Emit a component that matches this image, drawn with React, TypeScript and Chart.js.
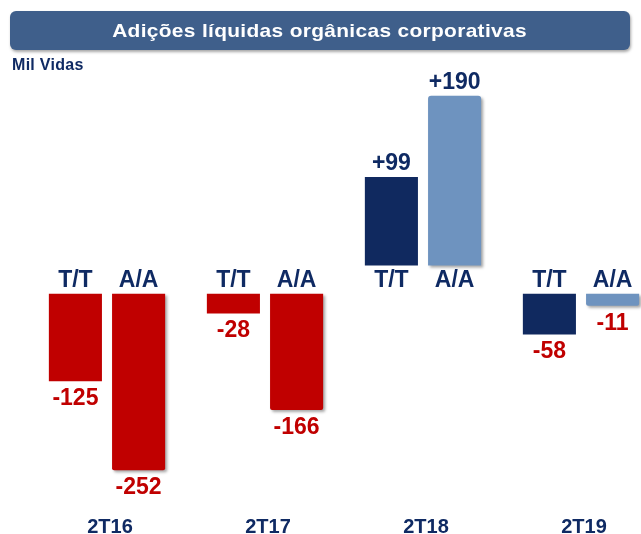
import React, { useEffect, useRef } from 'react';
import { Chart, registerables } from 'chart.js';

Chart.register(...registerables);

// ---- data ----
const categories = ['2T16', '2T17', '2T18', '2T19'];
const seriesNames = ['T/T', 'A/A'];
const ttValues = [-125, -28, 99, -58];
const aaValues = [-252, -166, 190, -11];
const titleText = 'Adições líquidas orgânicas corporativas';
const unitText = 'Mil Vidas';

// ---- styles ----
const RED = '#C00000';
const NAVY = '#10295F';
const LIGHT = '#6E93BF';
const TEXT_NAVY = '#0F2A63';
const ttColors = [RED, RED, NAVY, NAVY];
const aaColors = [RED, RED, LIGHT, LIGHT];
const FONT = '"Liberation Sans", Arial, sans-serif';

const negOnly = (arr: number[]) => arr.map((v) => (v < 0 ? v : null));
const posOnly = (arr: number[]) => arr.map((v) => (v >= 0 ? v : null));

const barLabelsPlugin = {
  id: 'barLabels',
  beforeDatasetDraw(chart: any, args: any) {
    const ds = chart.data.datasets[args.index];
    if (ds.shadow) {
      const ctx = chart.ctx;
      ctx.save();
      ctx.shadowColor = 'rgba(0,0,0,0.35)';
      ctx.shadowBlur = 3;
      ctx.shadowOffsetX = 2;
      ctx.shadowOffsetY = 2;
    }
  },
  afterDatasetDraw(chart: any, args: any) {
    const ds = chart.data.datasets[args.index];
    if (ds.shadow) chart.ctx.restore();
  },
  afterDatasetsDraw(chart: any) {
    const ctx = chart.ctx;
    const zeroNeg = chart.scales.yNeg.getPixelForValue(0);
    ctx.save();
    ctx.textAlign = 'center';
    ctx.textBaseline = 'alphabetic';
    chart.data.datasets.forEach((ds: any, di: number) => {
      const meta = chart.getDatasetMeta(di);
      meta.data.forEach((bar: any, i: number) => {
        const v = ds.data[i];
        if (v === null || v === undefined) return;
        const { x, y, base } = bar.getProps(['x', 'y', 'base'], true);
        ctx.font = `bold 23px ${FONT}`;
        ctx.fillStyle = TEXT_NAVY;
        ctx.fillText(ds.seriesName, x, zeroNeg - 7);
        const txt = v > 0 ? '+' + v : String(v);
        if (v < 0) {
          ctx.fillStyle = RED;
          ctx.fillText(txt, x, Math.max(y, base) + 24);
        } else {
          ctx.fillStyle = TEXT_NAVY;
          ctx.fillText(txt, x, Math.min(y, base) - 7);
        }
      });
    });
    ctx.restore();
  },
};

export default function App() {
  const canvasRef = useRef<HTMLCanvasElement | null>(null);

  useEffect(() => {
    if (!canvasRef.current) return;
    const common = {
      categoryPercentage: 0.8,
      barPercentage: 0.84,
      borderWidth: 0,
    };
    const chart = new Chart(canvasRef.current, {
      type: 'bar',
      data: {
        labels: categories,
        datasets: [
          { ...common, seriesName: seriesNames[0], data: negOnly(ttValues), backgroundColor: ttColors, yAxisID: 'yNeg', stack: 'tt', minBarLength: 12 } as any,
          { ...common, seriesName: seriesNames[1], data: negOnly(aaValues), backgroundColor: aaColors, yAxisID: 'yNeg', stack: 'aa', minBarLength: 12, shadow: true, borderRadius: 2 } as any,
          { ...common, seriesName: seriesNames[0], data: posOnly(ttValues), backgroundColor: ttColors, yAxisID: 'yPos', stack: 'tt' } as any,
          { ...common, seriesName: seriesNames[1], data: posOnly(aaValues), backgroundColor: aaColors, yAxisID: 'yPos', stack: 'aa', shadow: true, borderRadius: 3 } as any,
        ],
      },
      options: {
        responsive: false,
        animation: false,
        events: [],
        layout: { padding: { top: 60, left: 28, right: 40, bottom: 0 } },
        plugins: { legend: { display: false }, tooltip: { enabled: false }, title: { display: false } },
        scales: {
          x: {
            offset: true,
            grid: { display: false, drawTicks: false },
            border: { display: false },
            ticks: {
              color: TEXT_NAVY,
              font: { family: FONT, size: 20, weight: 'bold' },
              padding: 21,
              labelOffset: 3,
            },
            afterFit(scale: any) {
              scale.height = 40;
            },
          },
          yNeg: {
            type: 'linear',
            display: false,
            stacked: false,
            min: -286,
            max: 334,
          },
          yPos: {
            type: 'linear',
            display: false,
            stacked: false,
            min: -256,
            max: 230,
          },
        },
      } as any,
      plugins: [barLabelsPlugin],
    });
    return () => chart.destroy();
  }, []);

  return (
    <div style={{ position: 'fixed', left: 0, top: 0, width: 641, height: 534, overflow: 'hidden', background: '#fff' }}>
      <canvas ref={canvasRef} width={700} height={534} style={{ position: 'absolute', left: 0, top: 0 }} />
      <div
        style={{
          position: 'absolute',
          left: 10,
          top: 11,
          width: 620,
          height: 39,
          borderRadius: 6,
          background: '#3F5F8B',
          boxShadow: '1px 2px 3px rgba(0,0,0,0.35)',
          color: '#fff',
          fontFamily: FONT,
          fontWeight: 'bold',
          fontSize: 19,
          display: 'flex',
          alignItems: 'center',
          justifyContent: 'center',
        }}
      >
        <span style={{ display: 'inline-block', transform: 'scaleX(1.1)', letterSpacing: 0.3 }}>{titleText}</span>
      </div>
      <div
        style={{
          position: 'absolute',
          left: 12,
          top: 56,
          color: TEXT_NAVY,
          fontFamily: FONT,
          fontWeight: 'bold',
          fontSize: 16,
          letterSpacing: 0.3,
        }}
      >
        {unitText}
      </div>
    </div>
  );
}
